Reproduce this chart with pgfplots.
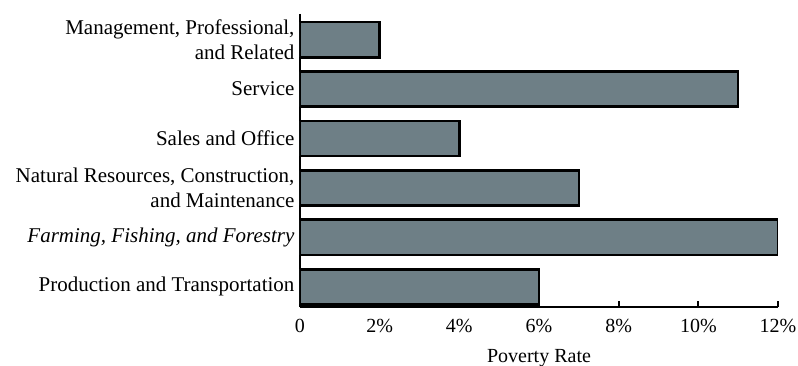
\documentclass[border=0pt]{standalone}
\usepackage{fontspec}
\setmainfont{Liberation Serif}
\usepackage{pgfplots}
\pgfplotsset{compat=1.18}
\definecolor{barfill}{HTML}{6E7F86}

\begin{document}
\begin{tikzpicture}
% fix the page to the reference size, axis origin at the lower left of the plot area
\path[use as bounding box] (-300pt,-59pt) rectangle (498pt,307pt);
\begin{axis}[
    at={(0,0)}, anchor=south west,
    scale only axis,
    width=478pt, height=293pt,
    xbar, bar width=0.71,
    y dir=reverse,
    xmin=0, xmax=12,
    ymin=-0.52, ymax=5.41,
    axis x line*=bottom,
    axis y line*=left,
    axis line style={line width=2.6pt, -},
    xtick={0,2,4,6,8,10,12},
    xticklabels={0,2\%,4\%,6\%,8\%,10\%,12\%},
    ytick={0,1,2,3,4,5},
    yticklabels={{Management, Professional,\\and Related},
                 Service,
                 Sales and Office,
                 {Natural Resources, Construction,\\and Maintenance},
                 \textit{Farming, Fishing, and Forestry},
                 Production and Transportation},
    yticklabel style={align=right, font=\fontsize{21}{25}\selectfont, xshift=-2pt},
    xticklabel style={font=\fontsize{20}{22}\selectfont, yshift=-9pt},
    y tick style={draw=none},
    x tick style={line width=1.8pt, black},
    tick align=inside,
    major tick length=6pt,
    xlabel={Poverty Rate},
    xlabel style={font=\fontsize{20}{24}\selectfont, yshift=-9pt},
]
\addplot[fill=barfill, draw=black, line width=2.6pt]
    coordinates {(2,0) (11,1) (4,2) (7,3) (12,4) (6,5)};
\end{axis}
\end{tikzpicture}
\end{document}
